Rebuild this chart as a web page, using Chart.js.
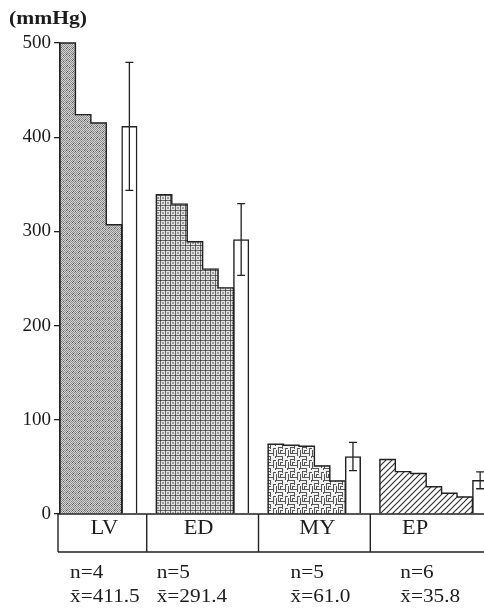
<!DOCTYPE html>
<html>
<head>
<meta charset="utf-8">
<script src="https://cdn.jsdelivr.net/npm/chart.js@4.4.1/dist/chart.umd.min.js"></script>
<style>
  html, body { margin: 0; padding: 0; background: #fff; }
  canvas { display: block; }
</style>
</head>
<body>
<canvas id="c" width="484" height="608"></canvas>
<script>
// Pressure per specimen, grouped by tissue (mmHg)
const groups   = ['LV', 'ED', 'MY', 'EP'];
const lvValues = [500, 424, 415, 307];
const edValues = [339, 329, 289, 260, 240];
const myValues = [74, 73, 72, 51, 35];
const epValues = [57.8, 45, 43, 29, 22, 18];
const means    = [411.5, 291.4, 61.0, 35.8];
const sds      = [68, 38, 15, 9];
const yTicks   = [0, 100, 200, 300, 400, 500];
const unitLabel = '(mmHg)';

const groupValues = [lvValues, edValues, myValues, epValues];

// ---- slot layout: one slot per bar, a blank spacer between groups ----
const GAP = 1.25;
const slots = [];
let cursor = 0;
groupValues.forEach(vals => {
  slots.push({ start: cursor, meanX: cursor + vals.length + 0.5, end: cursor + vals.length + 1 });
  cursor += vals.length + 1 + GAP;
});

const canvas = document.getElementById('c');
const ctx = canvas.getContext('2d');

// ---- fill textures for each tissue ----
function makePattern(size, draw) {
  const t = document.createElement('canvas');
  t.width = t.height = size;
  const g = t.getContext('2d');
  draw(g, size);
  return ctx.createPattern(t, 'repeat');
}
const stipple = makePattern(6, (g, s) => {
  g.fillStyle = '#d2d2d2'; g.fillRect(0, 0, s, s);
  for (let y = 0; y < s; y++) {
    for (let x = 0; x < s; x++) {
      if ((x + y) % 2 === 0) {
        g.fillStyle = ((x * 3 + y * 5) % 7 === 0) ? '#5a5a5a' : '#8c8c8c';
        g.fillRect(x, y, 1, 1);
      }
    }
  }
});
const mesh = makePattern(5, (g, s) => {
  g.fillStyle = '#e2e2e2'; g.fillRect(0, 0, s, s);
  g.fillStyle = '#666';
  for (let i = 0; i < s; i++) { g.fillRect(i, 0, 1, 1); g.fillRect(0, i, 1, 1); }
  g.fillStyle = '#383838'; g.fillRect(0, 0, 1, 1);
  g.fillStyle = '#9a9a9a'; g.fillRect(2, 2, 2, 2);
});
const maze = makePattern(12, (g, s) => {
  g.fillStyle = '#f2f2f2'; g.fillRect(0, 0, s, s);
  g.fillStyle = '#555';
  const h = (x, y, l) => g.fillRect(x, y, l, 1);
  const v = (x, y, l) => g.fillRect(x, y, 1, l);
  h(0, 0, 7); v(6, 0, 5); h(2, 3, 4); v(2, 3, 7); h(2, 9, 8);
  v(9, 4, 8); h(9, 4, 3); v(0, 6, 6); h(4, 6, 3); v(11, 0, 2); v(4, 6, 3);
});
const hatch = makePattern(6, (g, s) => {
  g.fillStyle = '#fff'; g.fillRect(0, 0, s, s);
  g.strokeStyle = '#333'; g.lineWidth = 1.2;
  g.beginPath();
  g.moveTo(0, s); g.lineTo(s, 0);
  g.moveTo(-1, 1); g.lineTo(1, -1);
  g.moveTo(s - 1, s + 1); g.lineTo(s + 1, s - 1);
  g.stroke();
});
const fills = [stipple, mesh, maze, hatch];

// ---- datasets ----
const datasets = groupValues.map((vals, g) => ({
  label: groups[g],
  data: vals.map((v, i) => ({ x: slots[g].start + i + 0.5, y: v })),
  backgroundColor: fills[g],
  borderWidth: 0,
  grouped: false,
  barPercentage: 1,
  categoryPercentage: 1
}));
datasets.push({
  label: 'mean',
  data: means.map((m, g) => ({ x: slots[g].meanX, y: m })),
  backgroundColor: '#ffffff',
  borderColor: '#222',
  borderWidth: 1.5,
  grouped: false,
  barPercentage: 1,
  categoryPercentage: 1
});

const INK = '#1c1c1c';
const SERIF = '"Liberation Serif", "Times New Roman", serif';

function stretchText(c, s, x, y, align, font, sx) {
  c.save();
  c.font = font;
  c.textBaseline = 'alphabetic';
  c.textAlign = 'left';
  const w = c.measureText(s).width * sx;
  const left = align === 'center' ? x - w / 2 : align === 'right' ? x - w : x;
  c.translate(left, y);
  c.scale(sx, 1);
  c.fillStyle = INK;
  c.fillText(s, 0, 0);
  c.restore();
}

// step outlines, error bars, category strip and summary text
const decor = {
  id: 'decor',
  afterDatasetsDraw(chart) {
    const c = chart.ctx;
    const ys = chart.scales.y;
    c.save();
    c.strokeStyle = '#222';
    c.lineWidth = 1.4;
    for (let g = 0; g < groups.length; g++) {
      const els = chart.getDatasetMeta(g).data;
      c.beginPath();
      els.forEach((el, i) => {
        const { x, y, width, base } = el.getProps(['x', 'y', 'width', 'base'], true);
        const l = x - width / 2, r = x + width / 2;
        if (i === 0) { c.moveTo(l, base); }
        c.lineTo(l, y);
        c.lineTo(r, y);
        if (i === els.length - 1) c.lineTo(r, base);
      });
      c.stroke();
    }
    const meanEls = chart.getDatasetMeta(groups.length).data;
    c.lineWidth = 1.3;
    meanEls.forEach((el, g) => {
      const x = el.x;
      const t = ys.getPixelForValue(means[g] + sds[g]);
      const b = ys.getPixelForValue(means[g] - sds[g]);
      c.beginPath();
      c.moveTo(x, t); c.lineTo(x, b);
      c.moveTo(x - 4, t); c.lineTo(x + 4, t);
      c.moveTo(x - 4, b); c.lineTo(x + 4, b);
      c.stroke();
    });
    c.restore();
  },
  afterDraw(chart) {
    const c = chart.ctx;
    const xs = chart.scales.x, ys = chart.scales.y;
    const area = chart.chartArea;
    const top = ys.getPixelForValue(0);
    const bottom = top + 38;
    const left = area.left - 2;
    const right = chart.width;
    const edges = [left];
    for (let g = 0; g < groups.length - 1; g++) edges.push(xs.getPixelForValue(slots[g].end + GAP / 2));
    edges.push(Math.min(right, xs.getPixelForValue(slots[groups.length - 1].end + GAP / 2)));

    c.save();
    c.strokeStyle = '#222';
    c.lineWidth = 1.4;
    c.beginPath();
    c.moveTo(left, top); c.lineTo(right, top);
    c.moveTo(left, bottom); c.lineTo(right, bottom);
    for (let g = 0; g < groups.length; g++) { c.moveTo(edges[g], top); c.lineTo(edges[g], bottom); }
    c.stroke();
    c.restore();

    const catFont = '20px ' + SERIF;
    const statFont = '19px ' + SERIF;
    const statInset = [12, 10, 32, 30];
    const labelNudge = [2, -4, 3, -12];
    groups.forEach((name, g) => {
      const cx = (edges[g] + edges[g + 1]) / 2 + labelNudge[g];
      stretchText(c, name, cx, top + 20, 'center', catFont, 1.12);
      const sx = edges[g] + statInset[g];
      stretchText(c, 'n=' + groupValues[g].length, sx, top + 64, 'left', statFont, 1.12);
      stretchText(c, 'x\u0304=' + means[g].toFixed(1), sx, top + 88, 'left', statFont, 1.12);
    });
    stretchText(c, unitLabel, 9, 24, 'left', 'bold 18px ' + SERIF, 1.2);
  }
};

new Chart(ctx, {
  type: 'bar',
  data: { datasets },
  plugins: [decor],
  options: {
    responsive: false,
    animation: false,
    devicePixelRatio: 1,
    layout: { padding: { top: 43, right: 0, bottom: 94, left: 0 } },
    plugins: { legend: { display: false }, tooltip: { enabled: false } },
    scales: {
      x: {
        type: 'linear',
        min: 0,
        max: 27.5,
        offset: false,
        display: false,
        ticks: { stepSize: 5 },
        grid: { offset: false }
      },
      y: {
        min: 0,
        max: 500,
        afterBuildTicks: s => { s.ticks = yTicks.map(v => ({ value: v })); },
        border: { display: true, color: '#222', width: 1.5 },
        grid: { display: true, drawOnChartArea: false, drawTicks: true, tickLength: 6, color: '#222', lineWidth: 1.3 },
        ticks: { color: INK, font: { family: SERIF, size: 19 }, padding: 3 },
        afterFit: s => { s.width = 60; }
      }
    }
  }
});
</script>
</body>
</html>
